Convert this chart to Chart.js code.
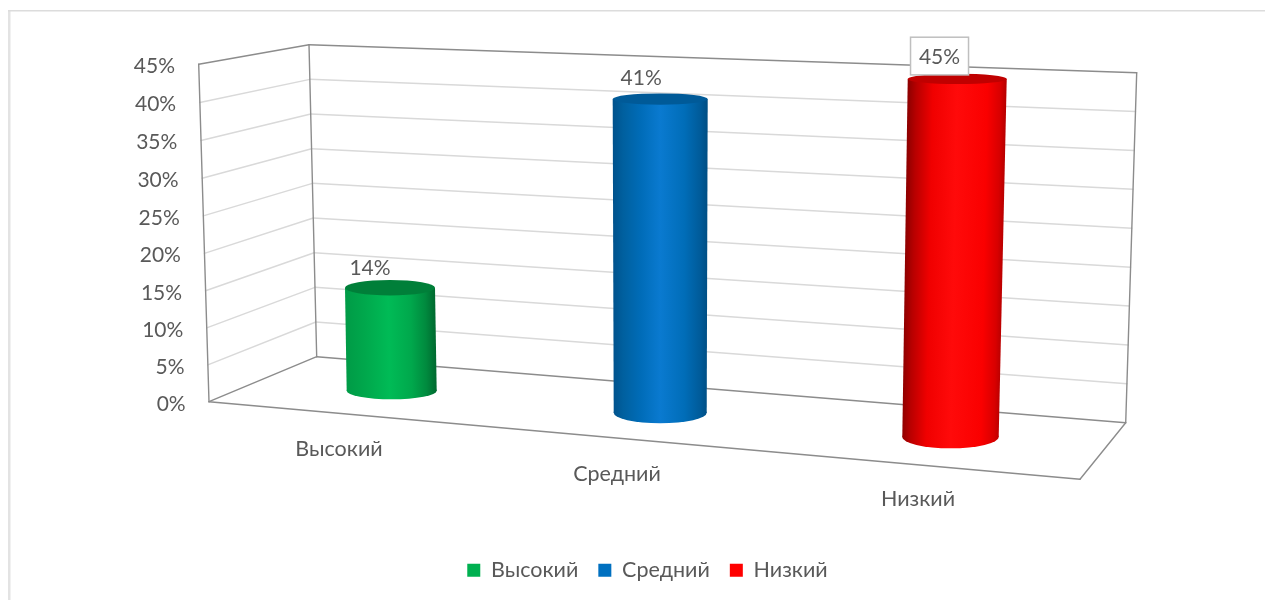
<!DOCTYPE html>
<html>
<head>
<meta charset="utf-8">
<style>html,body{margin:0;padding:0;background:#fff;overflow:hidden}#w{width:1265px;height:600px;position:relative}</style>
<script src="https://cdn.jsdelivr.net/npm/chart.js@4/dist/chart.umd.js"></script>
</head>
<body>
<div id="w"><canvas id="c" width="1265" height="600"></canvas></div>
<script>
const categories = ['Высокий', 'Средний', 'Низкий'];
const values = [14, 41, 45];
const axisTicks = [0, 5, 10, 15, 20, 25, 30, 35, 40, 45];
const axisMax = 45;
const baseColors = ['#00B050', '#0070C0', '#FF0000'];

const FONT = 'Lato';
const TEXT = '#595959';

// Perspective styling of the 3D box and cylinders (not data)
const box = {
  frontTop: [198.7, 64.3], frontBottom: [209, 401.7],
  backTop: [309, 44.7], backBottom: [316.7, 356.7],
  rightTop: [1136.7, 72.7], rightBottom: [1125.7, 422.7],
  floorFront: [1080, 479.3]
};
const cyl = [
  {cx: 391.7, yB: 390.7, k: 0.978, shear: -0.0165, wT: 90, wB: 90, ryT: 7.7, ryB: 8.6, lx: -20, ly: -19.3,
   stops: [[0,'#009a46'],[0.22,'#00a84c'],[0.48,'#00bb56'],[0.72,'#00a84c'],[0.88,'#008a3e'],[1,'#00662e']], cap: '#007f39'},
  {cx: 660.2, yB: 412.7, k: 1.017, shear: 0, wT: 95, wB: 93, ryT: 5.6, ryB: 10.6, lx: -19, ly: -21.2,
   stops: [[0,'#00508a'],[0.12,'#00609f'],[0.3,'#006cb8'],[0.5,'#0a7ad0'],[0.75,'#006db8'],[0.92,'#005a98'],[1,'#004c80']], cap: '#005a98'},
  {cx: 950.5, yB: 436.7, k: 1.057, shear: 0.0188, wT: 99, wB: 96.4, ryT: 5.2, ryB: 11.6, lx: -17.7, ly: -21.2,
   stops: [[0,'#860000'],[0.1,'#b80000'],[0.26,'#f00000'],[0.5,'#ff0a0a'],[0.8,'#fa0000'],[0.93,'#d80000'],[1,'#b00000']], cap: '#c00000'}
];
const xLabelPos = [[339, 449.5], [617, 474], [918, 499.5]];
const boxedLabel = 2;

const lerp = (a, b, t) => a + (b - a) * t;
function line(ctx, a, b) { ctx.beginPath(); ctx.moveTo(a[0], a[1]); ctx.lineTo(b[0], b[1]); ctx.stroke(); }
function frac(y, v) { return (y.bottom - y.getPixelForValue(v)) / (y.bottom - y.top); }

function frontPoint(t) {
  return [lerp(box.frontBottom[0], box.frontTop[0], t),
          lerp(box.frontBottom[1], box.frontTop[1], t) + 6.5 * t * (1 - t)];
}
function geometry(i, el) {
  const c = cyl[i];
  const h = (el.base - el.y) * c.k;
  return {c, h, yT: c.yB - h, cxT: c.cx + c.shear * h, W: Math.max(c.wT, c.wB) + 2};
}

const box3d = {
  id: 'box3d',
  beforeDraw(chart) {
    const ctx = chart.ctx;
    ctx.save();
    ctx.fillStyle = '#e3e3e3';
    ctx.fillRect(8, 10, 2.5, 590);
    ctx.fillStyle = '#dcdcdc';
    ctx.fillRect(8, 10, 1257, 1.5);
    ctx.restore();

    const y = chart.scales.y;
    const items = y.getLabelItems();
    if (!items._placed) {
      items._placed = true;
      items.forEach((it, i) => {
        const t = frac(y, y.ticks[i].value);
        const p = frontPoint(t);
        it.options.translation = [lerp(185.7, 175, t), p[1] + 2.2];
        it.options.textAlign = 'right';
        it.options.textBaseline = 'middle';
        it.textOffset = 0;
      });
    }
    const x = chart.scales.x;
    const xi = x.getLabelItems();
    if (!xi._placed) {
      xi._placed = true;
      xi.forEach((it, i) => {
        it.options.translation = xLabelPos[i].slice();
        it.options.textAlign = 'center';
        it.options.textBaseline = 'middle';
        it.textOffset = 0;
      });
    }
  },
  beforeDatasetsDraw(chart) {
    const ctx = chart.ctx, y = chart.scales.y;
    ctx.save();
    ctx.lineCap = 'round';
    ctx.strokeStyle = '#d9d9d9';
    ctx.lineWidth = 1.5;
    y.ticks.forEach(tk => {
      const t = frac(y, tk.value);
      if (t <= 0 || t >= 1) return;
      const f = frontPoint(t);
      const b = [lerp(box.backBottom[0], box.backTop[0], t), lerp(box.backBottom[1], box.backTop[1], t)];
      const r = [lerp(box.rightBottom[0], box.rightTop[0], t), lerp(box.rightBottom[1], box.rightTop[1], t)];
      line(ctx, f, b); line(ctx, b, r);
    });
    ctx.strokeStyle = '#8c8c8c';
    ctx.lineWidth = 1.4;
    line(ctx, box.frontTop, box.frontBottom);
    line(ctx, box.frontTop, box.backTop);
    line(ctx, box.backTop, box.backBottom);
    line(ctx, box.backTop, box.rightTop);
    line(ctx, box.rightTop, box.rightBottom);
    line(ctx, box.backBottom, box.rightBottom);
    line(ctx, box.frontBottom, box.backBottom);
    line(ctx, box.rightBottom, box.floorFront);
    line(ctx, box.frontBottom, box.floorFront);
    ctx.restore();
  },
  beforeDatasetDraw(chart, args) {
    const i = args.index, el = args.meta.data[i], ctx = chart.ctx;
    const g = geometry(i, el);
    const srcH = el.base - el.y;
    const a = g.W / el.width, c = (g.c.cx - g.cxT) / srcH, d = g.h / srcH;
    const grad = ctx.createLinearGradient(el.x - el.width / 2, 0, el.x + el.width / 2, 0);
    g.c.stops.forEach(s => grad.addColorStop(s[0], s[1]));
    el.options = Object.assign({}, el.options, {backgroundColor: grad, borderWidth: 0});
    ctx.save();
    // taper the side so it meets both ellipses exactly
    ctx.beginPath();
    ctx.moveTo(g.cxT - g.c.wT / 2, g.yT);
    ctx.lineTo(g.cxT + g.c.wT / 2, g.yT);
    ctx.lineTo(g.c.cx + g.c.wB / 2, g.c.yB);
    ctx.lineTo(g.c.cx - g.c.wB / 2, g.c.yB);
    ctx.closePath();
    ctx.clip();
    ctx.transform(a, 0, c, d, g.cxT - a * el.x - c * el.y, g.yT - d * el.y);
  },
  afterDatasetDraw(chart, args) {
    const i = args.index, el = args.meta.data[i], ctx = chart.ctx;
    ctx.restore();
    const g = geometry(i, el), c = g.c;
    const gb = ctx.createLinearGradient(c.cx - g.W / 2, 0, c.cx + g.W / 2, 0);
    c.stops.forEach(s => gb.addColorStop(s[0], s[1]));
    ctx.save();
    ctx.fillStyle = gb;
    ctx.beginPath();
    ctx.ellipse(c.cx, c.yB, c.wB / 2, c.ryB, 0, 0, Math.PI);
    ctx.lineTo(c.cx - c.wB / 2, c.yB - 1);
    ctx.lineTo(c.cx + c.wB / 2, c.yB - 1);
    ctx.closePath();
    ctx.fill();
    ctx.fillStyle = c.cap;
    ctx.beginPath();
    ctx.ellipse(g.cxT, g.yT, c.wT / 2, c.ryT, 0, 0, Math.PI * 2);
    ctx.fill();
    ctx.restore();
  },
  afterDatasetsDraw(chart) {
    const ctx = chart.ctx;
    ctx.save();
    chart.data.datasets.forEach((ds, i) => {
      const el = chart.getDatasetMeta(i).data[i];
      const g = geometry(i, el), c = g.c;
      const lx = g.cxT + c.lx, ly = g.yT + c.ly;
      if (i === boxedLabel) {
        ctx.fillStyle = '#fff';
        ctx.strokeStyle = '#bfbfbf';
        ctx.lineWidth = 1.5;
        ctx.fillRect(lx - 29, ly - 20.5, 58, 37.7);
        ctx.strokeRect(lx - 29, ly - 20.5, 58, 37.7);
      }
      ctx.fillStyle = TEXT;
      ctx.font = '21px ' + FONT;
      ctx.textAlign = 'center';
      ctx.textBaseline = 'middle';
      ctx.fillText(values[i] + '%', lx, ly);
    });
    ctx.restore();
  }
};

new Chart(document.getElementById('c'), {
  type: 'bar',
  data: {
    labels: categories,
    datasets: categories.map((name, i) => ({
      label: name,
      data: values.map((v, j) => (j === i ? v : null)),
      backgroundColor: baseColors[i],
      grouped: false,
      barThickness: 90,
      clip: false
    }))
  },
  options: {
    responsive: false,
    animation: false,
    layout: {padding: {top: 64, left: 30, right: 0, bottom: 9}},
    plugins: {
      tooltip: {enabled: false},
      legend: {
        position: 'bottom',
        labels: {
          boxWidth: 13, boxHeight: 13, padding: 20,
          color: TEXT, font: {family: FONT, size: 21.5},
          generateLabels(chart) {
            return chart.data.datasets.map((ds, i) => ({
              text: ds.label, fillStyle: baseColors[i], strokeStyle: baseColors[i],
              lineWidth: 0, datasetIndex: i, fontColor: TEXT
            }));
          }
        }
      }
    },
    scales: {
      x: {
        grid: {display: false}, border: {display: false},
        ticks: {color: TEXT, font: {family: FONT, size: 21.5}, maxRotation: 0, autoSkip: false},
        afterFit(s) { s.height = 137; }
      },
      y: {
        min: 0, max: axisMax,
        grid: {display: false}, border: {display: false},
        afterBuildTicks(s) { s.ticks = axisTicks.map(v => ({value: v})); },
        ticks: {color: TEXT, font: {family: FONT, size: 21}, callback: v => v + '%'},
        afterFit(s) { s.width = 179; }
      },
      spacer: {
        position: 'right', display: true, min: 0, max: 1,
        grid: {display: false}, border: {display: false}, ticks: {display: false},
        afterFit(s) { s.width = 185; }
      }
    }
  },
  plugins: [box3d]
});
</script>
</body>
</html>
